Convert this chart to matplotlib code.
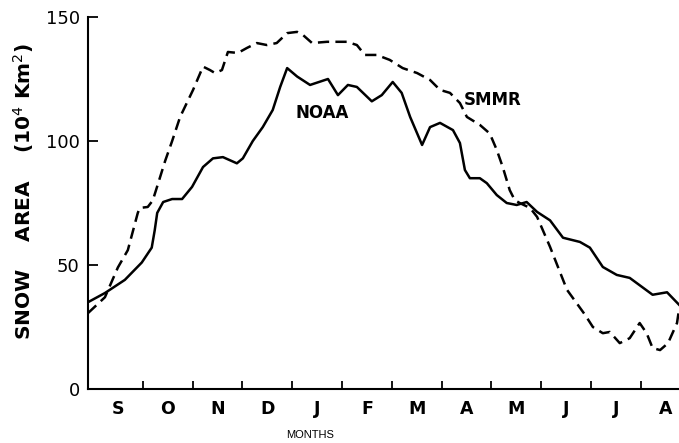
import matplotlib
matplotlib.use("Agg")
import matplotlib.pyplot as plt

# months since 1 September (fractional) and snow area (10^4 km^2)
noaa_mes = [-0.10, 0.24, 0.64, 0.98, 1.18, 1.24, 1.29, 1.41, 1.59, 1.79, 1.99, 2.21,
            2.41, 2.61, 2.89, 3.01, 3.21, 3.41, 3.61, 3.76, 3.90, 4.10, 4.36, 4.72,
            4.92, 5.12, 5.30, 5.60, 5.80, 6.02, 6.20, 6.37, 6.61, 6.77, 6.97, 7.23,
            7.37, 7.47, 7.57, 7.77, 7.91, 8.11, 8.31, 8.51, 8.71, 8.92, 9.18, 9.44,
            9.78, 9.98, 10.24, 10.52, 10.78, 11.24, 11.53, 11.77]
noaa_area = [35, 38.7, 44, 51, 57, 64, 71, 75.4, 76.6, 76.6, 81.5, 89.5,
             93, 93.5, 91, 93, 100, 105.6, 112.5, 121.8, 129.4, 126, 122.6, 125,
             118.5, 122.6, 121.8, 116, 118.5, 123.8, 119.4, 109.7, 98.4, 105.6, 107.3, 104.4,
             99.2, 88.3, 85, 85, 83, 78.2, 75, 74.2, 75.4, 71.4, 68, 61,
             59.3, 57, 49.2, 46, 44.8, 38, 39, 34]

smmr_mes = [-0.10, 0.24, 0.50, 0.70, 0.90, 0.94, 1.10, 1.20, 1.31, 1.45, 1.59, 1.75,
            2.01, 2.21, 2.35, 2.45, 2.59, 2.71, 2.91, 3.09, 3.29, 3.49, 3.69, 3.90,
            4.10, 4.22, 4.40, 4.70, 5.10, 5.30, 5.46, 5.70, 5.96, 6.22, 6.51, 6.77,
            6.97, 7.17, 7.37, 7.51, 7.77, 7.97, 8.11, 8.23, 8.37, 8.47, 8.57, 8.78,
            8.92, 9.18, 9.52, 9.88, 10.04, 10.24, 10.38, 10.58, 10.78, 10.98, 11.12, 11.24,
            11.39, 11.55, 11.73, 11.77]
smmr_area = [30.6, 37, 49, 56, 71, 73, 73.4, 76, 83, 92, 100, 109.7,
             120.6, 130, 128.6, 127.4, 128.6, 135.9, 135.5, 137.5, 139.5, 138.7, 139.5, 143.5,
             144, 142.7, 139.5, 140, 140, 138.7, 134.7, 134.7, 132.7, 129.4, 127.4, 124.6,
             120.6, 119.4, 115.3, 109.7, 106.5, 103, 96.4, 89.5, 80.2, 76.2, 75, 73,
             69.4, 57.3, 40, 30, 25, 22.5, 23, 18.5, 20.5, 26.6, 22.5, 16.5,
             15.7, 18.5, 26.6, 32]

meses = ["S", "O", "N", "D", "J", "F", "M", "A", "M", "J", "J", "A"]
y_ticks = [0, 50, 100, 150]

fig = plt.figure(figsize=(6.79, 4.43), dpi=100)
ax = fig.add_axes([88 / 679, 1 - 389 / 443, 1 - 88 / 679, (389 - 17) / 443])

ax.plot(noaa_mes, noaa_area, color="black", lw=1.8, solid_joinstyle="round")
ax.plot(smmr_mes, smmr_area, color="black", lw=1.8, dashes=(4.5, 2.5))

ax.set_xlim(-0.1, 11.77)
ax.set_ylim(0, 150)

for lado in ["top", "right"]:
    ax.spines[lado].set_visible(False)
ax.spines["left"].set_linewidth(1.5)
ax.spines["bottom"].set_linewidth(1.5)

# ticks en los limites de cada mes, etiquetas al centro
ax.set_xticks(range(1, 12))
ax.set_xticklabels([])
ax.set_xticks([i + 0.5 for i in range(12)], minor=True)
ax.set_xticklabels(meses, minor=True, fontsize=12.5, fontweight="bold")
ax.tick_params(axis="x", which="major", direction="in", length=6, width=1.3)
ax.tick_params(axis="x", which="minor", length=0, pad=8)

ax.set_yticks(y_ticks)
ax.set_yticklabels([str(v) for v in y_ticks], fontsize=13)
ax.tick_params(axis="y", direction="in", length=7, width=1.3, pad=6)

ax.text(4.6, 111.3, "NOAA", fontsize=12, fontweight="bold", ha="center", va="center")
ax.text(8.03, 116.5, "SMMR", fontsize=12, fontweight="bold", ha="center", va="center")

fig.text(310 / 679, 1 - 435 / 443, "MONTHS", fontsize=8, ha="center", va="center",
         family="Liberation Sans")
fig.text(24 / 679, 1 - 192 / 443, "SNOW    AREA    (10$^4$ Km$^2$)", rotation=90,
         fontsize=14.5, fontweight="bold", ha="center", va="center")

fig.savefig("out.png", dpi=100)
